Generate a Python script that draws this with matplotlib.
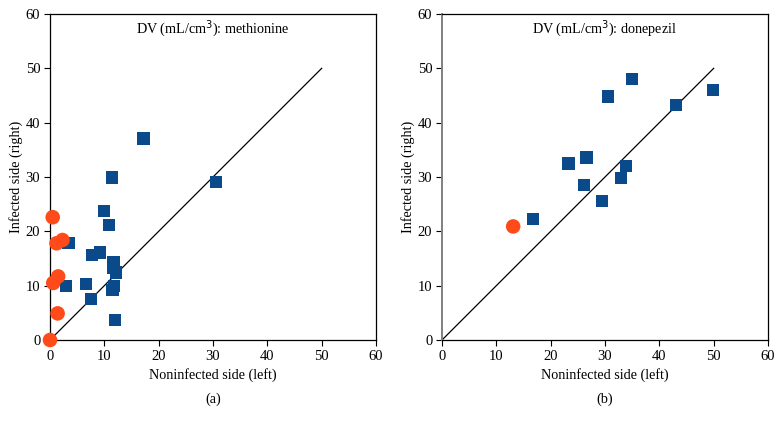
import matplotlib.pyplot as plt

plt.rcParams['font.family'] = ['Liberation Serif', 'DejaVu Serif']

BLUE = '#0b4a8a'
ORANGE = '#ff4b1a'

# panel (a): methionine
meth_sq_x = [17.2, 11.4, 30.6, 9.9, 10.8, 3.4, 7.7, 9.2, 11.7, 11.6, 12.1,
             3.0, 6.6, 11.8, 11.5, 7.5, 11.9]
meth_sq_y = [37.1, 29.9, 29.1, 23.8, 21.1, 17.8, 15.6, 16.1, 14.3, 13.3, 12.4,
             10.0, 10.3, 10.0, 9.2, 7.6, 3.7]
meth_ci_x = [0.0, 0.5, 1.2, 2.3, 0.6, 1.5, 1.4]
meth_ci_y = [0.0, 22.6, 17.8, 18.4, 10.5, 11.7, 4.9]

# panel (b): donepezil
done_sq_x = [16.7, 23.3, 26.6, 26.2, 29.5, 33.0, 33.8, 30.5, 35.0, 43.0, 49.9]
done_sq_y = [22.3, 32.5, 33.6, 28.5, 25.6, 29.8, 32.0, 44.8, 48.1, 43.3, 46.0]
done_ci_x = [13.1]
done_ci_y = [20.9]

identity = [0, 50]
ticks = [0, 10, 20, 30, 40, 50, 60]

fig = plt.figure(figsize=(7.83, 4.24), dpi=100)
ax_a = fig.add_axes([50 / 783, 84 / 424, 326 / 783, 326 / 424])
ax_b = fig.add_axes([442 / 783, 84 / 424, 326 / 783, 326 / 424])

panels = [
    (ax_a, meth_sq_x, meth_sq_y, meth_ci_x, meth_ci_y, 'methionine', '(a)', 'black'),
    (ax_b, done_sq_x, done_sq_y, done_ci_x, done_ci_y, 'donepezil', '(b)', '#808080'),
]

for ax, sx, sy, cx, cy, drug, tag, lspine in panels:
    ax.plot(identity, identity, color='black', linewidth=0.9, zorder=1)
    ax.scatter(sx, sy, marker='s', s=78, color=BLUE, edgecolors='none',
               zorder=3, clip_on=False)
    ax.scatter(cx, cy, marker='o', s=110, color=ORANGE, edgecolors='none',
               zorder=4, clip_on=False)
    ax.set_xlim(0, 60)
    ax.set_ylim(0, 60)
    ax.set_xticks(ticks)
    ax.set_yticks(ticks)
    ax.tick_params(direction='out', length=4, width=0.8, labelsize=10.5,
                   pad=3)
    for sp in ax.spines.values():
        sp.set_linewidth(0.9)
    ax.spines['left'].set_color(lspine)
    ax.spines['left'].set_linewidth(1.4 if lspine != 'black' else 0.9)
    ax.set_xlabel('Noninfected side (left)', fontsize=10.2, labelpad=4)
    ax.set_ylabel('Infected side (right)', fontsize=10.2, labelpad=2)
    ax.text(0.5, 0.954, f'DV (mL/cm$^3$): {drug}', transform=ax.transAxes,
            ha='center', va='center', fontsize=10.2)
    ax.text(0.5, -0.181, tag, transform=ax.transAxes, ha='center',
            va='center', fontsize=10.2)

fig.savefig('out.png', dpi=100)
